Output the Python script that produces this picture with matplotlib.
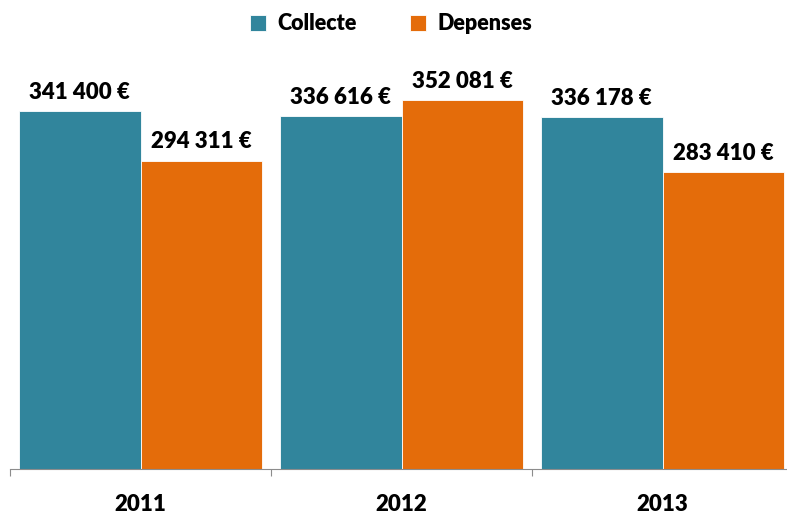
import matplotlib.pyplot as plt
import numpy as np

years = ['2011', '2012', '2013']
collecte = [341400, 336616, 336178]
depenses = [294311, 352081, 283410]

teal = '#31859C'
orange = '#E46C0A'

plt.rcParams['font.family'] = ['Lato', 'DejaVu Sans']

fig = plt.figure(figsize=(7.87, 5.16), dpi=100)
ax = fig.add_axes([10 / 787, 47 / 516, 783 / 787, 419 / 516])

x = np.arange(len(years))
w = 0.465
b1 = ax.bar(x - w / 2, collecte, w, color=teal, edgecolor='white', linewidth=0.6, label='Collecte')
b2 = ax.bar(x + w / 2, depenses, w, color=orange, edgecolor='white', linewidth=0.6, label='Depenses')

def fmt(v):
    return f'{v:,}'.replace(',', ' ') + ' €'

for bars, vals in [(b1, collecte), (b2, depenses)]:
    for bar, v in zip(bars, vals):
        ax.annotate(fmt(v), (bar.get_x() + bar.get_width() / 2, v),
                    xytext=(0, 6), textcoords='offset points',
                    ha='center', va='bottom', fontsize=16, fontweight='heavy')

ax.set_xlim(-0.5, 2.5)
ax.set_ylim(0, 400000)
ax.set_yticks([])
for s in ['top', 'right', 'left']:
    ax.spines[s].set_visible(False)
ax.spines['bottom'].set_color('#8c8c8c')

ax.set_xticks([-0.5, 0.5, 1.5, 2.5])
ax.set_xticklabels([])
ax.tick_params(axis='x', which='major', length=5, color='#8c8c8c', direction='out')
ax.set_xticks(x, minor=True)
ax.set_xticklabels(years, minor=True, fontsize=16, fontweight='heavy')
ax.tick_params(axis='x', which='minor', length=0, pad=18)

fig.legend(handles=[b1, b2], loc='center', bbox_to_anchor=(391 / 787, 1 - 24 / 516),
           ncol=2, frameon=False, prop={'weight': 'heavy', 'size': 15.5},
           handlelength=0.75, handleheight=0.75, columnspacing=2.5, handletextpad=0.5)

fig.savefig('out.png', dpi=100)
